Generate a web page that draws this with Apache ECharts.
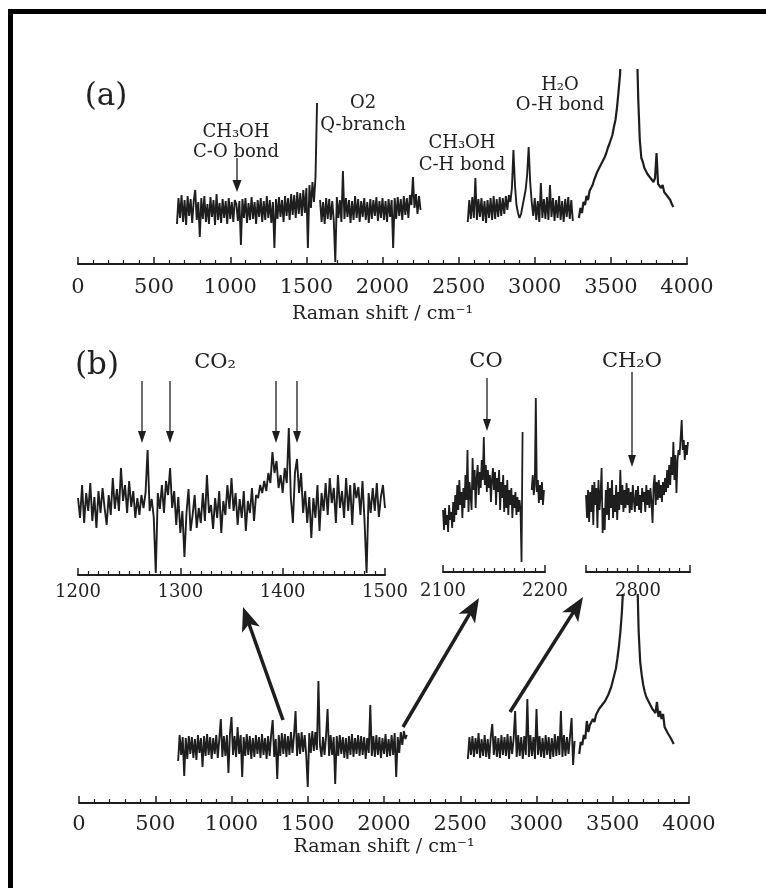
<!DOCTYPE html>
<html><head><meta charset="utf-8">
<script src="https://cdn.jsdelivr.net/npm/echarts@6/dist/echarts.min.js"></script>
<style>html,body{margin:0;padding:0;background:#fff}#c{width:766px;height:888px}</style>
</head><body><div id="c"></div>
<script>
const C = '#1e1e1e';
const FONT = '"DejaVu Serif","Liberation Serif",serif';

// ---------- DATA (Raman shift in cm^-1, intensity in arbitrary units, baseline = 0) ----------
// Panel (a): full spectrum, sampled every 10 cm^-1
const aSeg1Start = 650, aSeg1 = [
 -14,12,-8,15,-12,10,-15,14,-6,11,
 -13,9,20,-10,8,-27,12,-9,14,-12,
 6,-14,13,-7,10,-15,16,-10,7,-13,
 11,-8,9,-14,12,-9,8,-12,10,6,
 -11,9,-35,11,-8,12,-13,7,-10,13,
 -9,8,-14,10,-7,12,-12,9,-10,14,
 -8,10,-13,8,-38,11,-9,13,-7,10,
 -12,14,-6,12,-10,16,-5,15,-8,18,
 -4,17,-6,20,-3,22,-38,25,2,28,
 8,33,107];
const aSeg2Start = 1590, aSeg2 = [
 10,-12,8,-14,12,-9,11,-10,9,-11,
 -52,13,-8,10,-12,39,-9,12,-7,10,
 -13,9,-10,14,-8,11,-12,9,-7,12,
 -10,8,-13,11,-9,10,-6,13,-11,9,
 -8,12,-10,9,-12,11,-7,10,-38,12,
 -9,13,-6,11,-10,14,-5,12,-8,15,
 5,33,2,16,-4,14,0];
const aSeg3Start = 2560, aSeg3 = [
 -12,10,-9,13,-8,32,-10,11,-7,12,
 -11,9,-13,10,-8,12,-10,14,-9,11,
 -7,13,-6,12,-4,14,0,15,8,22,
 60,25,5,-3,-8,-4,4,12,20,35,
 63,28,8,-6,12,-10,9,-12,27,-8,
 11,-9,13,-10,25,-7,12,-11,10,-8,
 14,-10,9,-12,11,-7,13,-9,10,-11];
const aSeg4Start = 3290, aSeg4 = [
 -8,2,-3,8,5,14,10,19,17,25,
 30,28,38,36,44,42,50,53,57,62,
 66,68,75,83,90,102,118,135,170,230,
 320,420,500,540,500,420,320,230,170,110,
 70,52,48,42,40,36,38,32,30,28,
 32,57,26,24,22,25,18,20,14,12,
 10,6,3];

// Panel (b) inset: CO2 region, every 2 cm^-1
const b1Start = 1200, b1 = [
 5,-15,18,-20,10,-8,20,-18,6,-25,
 12,-10,15,-5,-22,8,-12,25,-6,14,
 -8,35,2,18,-10,22,-4,12,-15,5,
 -12,8,-5,10,53,-8,4,-14,-70,10,
 -6,18,-10,22,8,35,-5,12,-22,6,
 -30,-8,-54,-10,14,-28,-12,8,-25,-5,
 -20,10,-18,28,-10,-2,-26,5,-15,12,
 -30,2,-12,18,-6,25,-8,10,-22,4,
 -15,12,-28,2,-10,15,-18,8,5,18,
 10,22,12,30,20,51,30,42,15,28,
 10,35,20,75,5,-20,30,44,10,30,
 -10,12,-20,6,-35,5,-15,18,-28,10,
 -8,20,-12,25,0,15,-20,28,-5,12,
 -15,25,-8,18,-22,20,5,16,-12,22,
 -18,-70,10,-10,15,-8,20,-14,6,18,
 -5];
// Panel (b) inset: CO region, every 1 cm^-1 (null = gap)
const b2Start = 2100, b2 = [
 -10,-30,-8,-25,-15,-32,-5,-20,-12,-28,
 -2,-22,5,-15,15,-10,20,-5,8,-18,
 12,-8,25,0,50,-12,18,5,-10,42,
 10,30,-8,22,35,5,28,12,40,20,
 63,15,35,8,30,12,25,-2,20,32,
 10,28,-5,22,8,30,-10,18,2,25,
 -12,15,-8,20,-15,10,-5,12,-18,5,
 -8,8,-15,3,-12,0,-10,-62,68,null,
 null,null,null,null,null,null,null,10,25,5,
 15,102,8,20,-3,15,0,18,-5,10];
// Panel (b) inset: CH2O region, every 1 cm^-1
const b3Start = 2750, b3 = [
 5,-18,10,-22,8,-12,15,-25,18,-5,
 12,-28,20,-10,5,32,-33,-8,-30,10,
 -15,18,-20,12,-8,20,-18,5,-12,15,
 -20,8,-10,30,-5,15,-12,10,-8,17,
 -5,12,-13,8,-10,15,0,-12,10,-6,
 14,-10,5,-13,12,-2,8,-12,15,-5,
 10,-8,12,-3,-23,15,25,-5,18,0,
 20,2,15,-2,18,5,22,8,30,12,
 35,15,43,25,58,20,45,7,40,50,
 45,62,80,50,60,40,55,45,58];
const b3Labels = [2800];

// Panel (b) bottom: full spectrum, every 10 cm^-1
const cSeg1Start = 650, cSeg1 = [
 -14,12,-8,10,-29,9,-12,11,-7,10,
 -11,8,-13,12,-6,9,-20,11,-9,13,
 -8,10,-12,9,-7,12,-11,8,28,-10,
 11,-9,12,-26,14,30,-8,11,-10,20,
 -7,12,-30,10,-9,13,-8,11,-12,9,
 -10,12,-7,10,-11,13,-8,9,-12,11,
 -9,12,27,-10,8,-32,12,-9,14,-7,
 13,-10,11,-8,15,-6,12,36,-9,14,
 -7,15,-5,12,-8,-40,14,-6,16,-4,
 15,-3,66,2,-10,10,-8,11,38,-9,
 12,-8,10,-37,11,-9,12,-7,10,-11,
 9,-12,11,-8,13,-10,9,-7,12,-9,
 11,-8,10,-12,9,-6,42,-9,11,-10,
 12,-8,10,-11,9,-7,13,-10,8,-9,
 12,-8,14,-30,10,-6,15,2,16,8,
 12];
const cSeg2Start = 2550, cSeg2 = [
 -12,10,-8,11,-10,9,-7,14,-11,8,
 -9,12,-10,8,-12,10,23,-8,11,-10,
 9,-11,12,-8,10,-9,13,-12,11,-7,
 8,36,-10,12,-9,10,-12,11,-8,48,
 -10,12,-9,10,-12,38,-8,11,-10,9,
 -11,12,-8,10,-12,9,-10,13,-9,11,
 -8,36,-10,12,-9,10,-7,11,29,-18,
 6];
const cSeg3Start = 3280, cSeg3 = [
 -7,5,2,12,8,26,15,22,20,28,
 25,32,30,38,36,42,40,46,48,52,
 56,60,66,72,78,88,100,115,135,165,
 220,300,400,500,560,500,400,280,175,115,
 85,72,62,55,50,47,44,41,38,36,
 34,45,30,36,28,33,20,18,14,12,
 9,6,3];

// ---------- helpers ----------
function seg(start, step, vals) { return vals.map((v, i) => [start + i * step, v]); }
function lineSeries(ax, data, w) {
  return {type:'line', xAxisIndex:ax, yAxisIndex:ax, data, showSymbol:false, symbol:'none',
    connectNulls:false, clip:true, silent:true, animation:false,
    lineStyle:{color:C, width:w}};
}
function xAxisDef(grid, min, max, interval, minorSplit, o) {
  return Object.assign({
    type:'value', gridIndex:grid, min, max, interval, position:'bottom',
    axisLine:{show:true, onZero:false, lineStyle:{color:C, width:2}},
    axisTick:{show:true, inside:true, length:o.tl, lineStyle:{color:C, width:1.5}},
    minorTick:{show:true, splitNumber:minorSplit, length:o.ml, lineStyle:{color:C, width:1.2}},
    splitLine:{show:false}, minorSplitLine:{show:false},
    axisLabel:{fontFamily:FONT, fontSize:o.fs, color:'#222', margin:o.margin,
      formatter:o.fmt || (v => String(v))}
  }, o.extra || {});
}
const nameStyle = {fontFamily:FONT, fontSize:19, color:'#222'};

const option = {
  backgroundColor:'#fff',
  animation:false,
  grid:[
    {left:78, top:70, width:609, height:194, outerBoundsMode:'none'},
    {left:78, top:400, width:307, height:175, outerBoundsMode:'none'},
    {left:443, top:390, width:102, height:182, outerBoundsMode:'none'},
    {left:586, top:390, width:104, height:182, outerBoundsMode:'none'},
    {left:79, top:595, width:610, height:208, outerBoundsMode:'none'}
  ],
  xAxis:[
    xAxisDef(0, 0, 4000, 500, 5, {tl:7, ml:4, fs:21, margin:13,
      extra:{name:'Raman shift / cm⁻¹', nameLocation:'middle', nameGap:41, nameTextStyle:nameStyle}}),
    xAxisDef(1, 1200, 1500, 100, 10, {tl:7, ml:4, fs:18, margin:8}),
    xAxisDef(2, 2100, 2200, 100, 10, {tl:7, ml:4, fs:18, margin:10}),
    xAxisDef(3, 2750, 2850, 50, 5, {tl:7, ml:4, fs:18, margin:10,
      fmt: v => (b3Labels.indexOf(v) >= 0 ? String(v) : '')}),
    xAxisDef(4, 0, 4000, 500, 5, {tl:7, ml:4, fs:21, margin:11,
      extra:{name:'Raman shift / cm⁻¹', nameLocation:'middle', nameGap:35, nameTextStyle:nameStyle}})
  ],
  yAxis:[
    {type:'value', gridIndex:0, min:-54, max:140, show:false},
    {type:'value', gridIndex:1, min:-72, max:103, show:false},
    {type:'value', gridIndex:2, min:-72, max:110, show:false},
    {type:'value', gridIndex:3, min:-72, max:110, show:false},
    {type:'value', gridIndex:4, min:-56, max:152, show:false}
  ],
  series:[
    lineSeries(0, seg(aSeg1Start, 10, aSeg1), 1.9),
    lineSeries(0, seg(aSeg2Start, 10, aSeg2), 1.9),
    lineSeries(0, seg(aSeg3Start, 10, aSeg3), 1.9),
    lineSeries(0, seg(aSeg4Start, 10, aSeg4), 2.2),
    lineSeries(1, seg(b1Start, 2, b1), 1.9),
    lineSeries(2, seg(b2Start, 1, b2), 1.8),
    lineSeries(3, seg(b3Start, 1, b3), 1.8),
    lineSeries(4, seg(cSeg1Start, 10, cSeg1), 1.9),
    lineSeries(4, seg(cSeg2Start, 10, cSeg2), 1.9),
    lineSeries(4, seg(cSeg3Start, 10, cSeg3), 2.2)
  ]
};

// ---------- annotations ----------
function txt(x, y, s, fs) {
  return {type:'text', x, y, silent:true, z:10,
    style:{text:s, fontFamily:FONT, fontSize:fs, fill:'#222', align:'center', verticalAlign:'middle'}};
}
function arrow(x1, y1, x2, y2, w, hl, hw, notch) {
  const dx = x2 - x1, dy = y2 - y1, L = Math.hypot(dx, dy), ux = dx / L, uy = dy / L;
  const bx = x2 - ux * hl, by = y2 - uy * hl, px = -uy, py = ux;
  const nx = x2 - ux * hl * (notch || 1), ny = y2 - uy * hl * (notch || 1);
  return [
    {type:'line', silent:true, z:10, shape:{x1, y1, x2:nx + ux, y2:ny + uy}, style:{stroke:C, lineWidth:w}},
    {type:'polygon', silent:true, z:10, shape:{points:[[x2, y2], [bx + px * hw / 2, by + py * hw / 2], [nx, ny], [bx - px * hw / 2, by - py * hw / 2]]}, style:{fill:C}}
  ];
}
const g = [];
// frame
g.push({type:'rect', silent:true, shape:{x:8, y:9, width:758, height:5}, style:{fill:'#000'}});
g.push({type:'rect', silent:true, shape:{x:8, y:9, width:5, height:879}, style:{fill:'#000'}});
// panel (a)
g.push(txt(106, 97, '(a)', 31));
g.push(txt(236, 132, 'CH₃OH', 18), txt(236, 152, 'C-O bond', 18));
g.push(txt(363, 103, 'O2', 18), txt(363, 125, 'Q-branch', 18));
g.push(txt(462, 143, 'CH₃OH', 18), txt(462, 165, 'C-H bond', 18));
g.push(txt(560, 85, 'H₂O', 18), txt(560, 105, 'O-H bond', 18));
g.push(...arrow(237, 158, 237, 192, 1.3, 12, 9, 1));
// panel (b)
g.push(txt(97, 366, '(b)', 31));
g.push(txt(215, 363, 'CO₂', 21), txt(486, 362, 'CO', 21), txt(632, 362, 'CH₂O', 21));
[142, 170, 276, 297].forEach(x => g.push(...arrow(x, 381, x, 443, 1.3, 12, 8, 1)));
g.push(...arrow(487, 378, 487, 431, 1.3, 12, 8, 1));
g.push(...arrow(632, 372, 632, 467, 1.3, 12, 8, 1));
// big arrows from full spectrum up to the insets
g.push(...arrow(283, 720, 243, 607, 3.5, 24, 19, 0.75));
g.push(...arrow(403, 727, 479, 598, 3.5, 24, 19, 0.75));
g.push(...arrow(510, 712, 583, 597, 3.5, 24, 19, 0.75));
option.graphic = g;

const chart = echarts.init(document.getElementById('c'), null, {renderer:'canvas'});
chart.setOption(option);
</script></body></html>
